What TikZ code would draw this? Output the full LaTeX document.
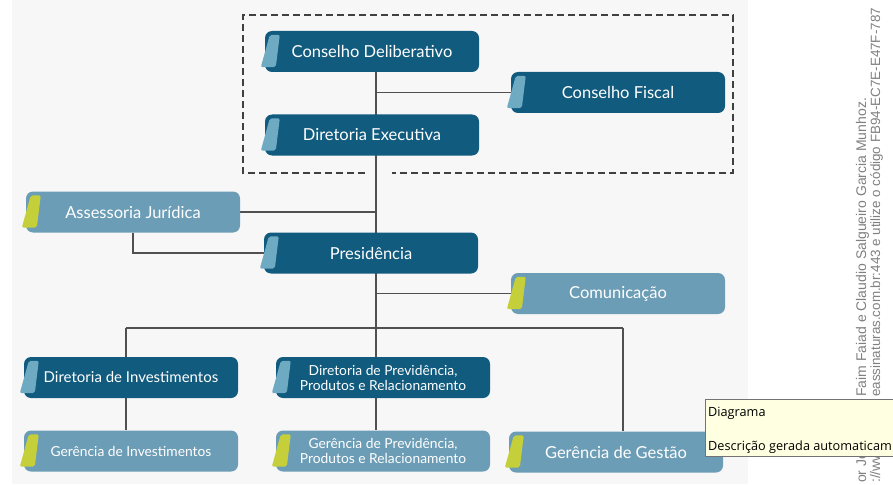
\documentclass[tikz,border=0pt]{standalone}
\usepackage{fontspec}
\setmainfont{Lato}
\newfontfamily\tipfont{Open Sans}
\newfontfamily\markfont{Liberation Sans}
\pgfdeclarelayer{bglayer}
\pgfdeclarelayer{edgelayer}
\pgfdeclarelayer{nodelayer}
\pgfsetlayers{bglayer,edgelayer,nodelayer,main}
\definecolor{darkblue}{HTML}{115B7E}
\definecolor{lightblue}{HTML}{6C9DB6}
\definecolor{tabblue}{HTML}{6FAAC3}
\definecolor{tabgreen}{HTML}{C4CF3A}
\definecolor{linegray}{HTML}{505050}
\definecolor{tipyellow}{HTML}{FFFFE1}
\tikzset{font=\fontsize{16.5}{18}\selectfont}
\tikzstyle{box}=[rectangle,rounded corners=7pt,minimum width=214pt,minimum height=41pt,inner sep=0pt,text=white,align=center]
\tikzstyle{dark}=[box,fill=darkblue]
\tikzstyle{light}=[box,fill=lightblue]
\tikzstyle{small}=[font=\fontsize{13.8}{15}\selectfont]
\tikzstyle{link}=[draw=linegray,line width=1.6pt]
\tikzstyle{frame}=[draw=black!75,line width=1.8pt,dash pattern=on 7pt off 4pt]
\tikzstyle{tip}=[anchor=base west,inner sep=0pt,font=\tipfont\fontsize{12.7}{14}\selectfont]
\tikzstyle{wmark}=[rotate=90,anchor=base west,inner sep=0pt,text=black!50,font=\markfont\fontsize{14}{16}\selectfont]

\begin{document}
\begin{tikzpicture}[x=1pt,y=-1pt]
	\useasboundingbox (0,0) rectangle (893,484);
	\begin{pgfonlayer}{bglayer}
		\fill[black!3] (12,0) rectangle (748,484);
	\end{pgfonlayer}
	\begin{pgfonlayer}{nodelayer}
		\node [style=dark] (cd) at (372, 51.5) {Conselho Deliberativo};
		\node [style=dark] (cf) at (618, 92.5) {Conselho Fiscal};
		\node [style=dark] (de) at (372, 135) {Diretoria Executiva};
		\node [style=light] (aj) at (133, 212) {Assessoria Jurídica};
		\node [style=dark] (pr) at (371, 253) {Presidência};
		\node [style=light] (co) at (618, 293.5) {Comunicação};
		\node [style=dark, font=\fontsize{15}{17}\selectfont] (di) at (131, 377.5) {Diretoria de Investimentos};
		\node [style=dark, small] (dp) at (383, 377.5) {Diretoria de Previdência,\\Produtos e Relacionamento};
		\node [style=light, small] (gi) at (131, 451) {Gerência de Investimentos};
		\node [style=light, small] (gp) at (383, 451) {Gerência de Previdência,\\Produtos e Relacionamento};
		\node [style=light] (gg) at (616, 452) {Gerência de Gestão};
		\coordinate (busl) at (126, 328);
		\coordinate (busm) at (376, 328);
		\coordinate (busr) at (623, 328);
	\end{pgfonlayer}
	\begin{pgfonlayer}{edgelayer}
		\draw [style=link] (busm |- cd.south) to (busm);
		\draw [style=link] (busm |- cf.west) to (cf.west);
		\draw [style=link] (aj.east) to (aj.east -| busm);
		\draw [style=link] (aj.south) to (aj.south |- pr.west) to (pr.west);
		\draw [style=link] (busm |- co.west) to (co.west);
		\draw [style=link] (busl) to (busr);
		\draw [style=link] (busl) to (busl |- di.north);
		\draw [style=link] (busl |- di.south) to (busl |- gi.north);
		\draw [style=link] (busm) to (busm |- dp.north);
		\draw [style=link] (busm |- dp.south) to (busm |- gp.north);
		\draw [style=link] (busr) to (busr |- gg.north);
		\draw [style=frame] (365, 173) -- (243, 173) -- (243, 15) -- (733, 15) -- (733, 173) -- (392, 173);
	\end{pgfonlayer}
	% tabs on the left of each box
	\foreach \n/\c in {cd/tabblue,cf/tabblue,de/tabblue,pr/tabblue,di/tabblue,dp/tabblue,aj/tabgreen,co/tabgreen,gi/tabgreen,gp/tabgreen,gg/tabgreen}
		\fill [\c, rounded corners=2pt] ([shift={(5,4)}]\n.north west) -- ([shift={(15,4)}]\n.north west) -- ([shift={(11,-5)}]\n.south west) -- ([shift={(-4,-5)}]\n.south west) -- cycle;
	% side text and tooltip
	\node [style=wmark] (wm1) at (866, 397) {Faim Faiad e Claudio Salgueiro Garcia Munhoz.};
	\node [style=wmark, font=\markfont\fontsize{13.4}{16}\selectfont] (wm2) at (880, 397) {eassinaturas.com.br:443 e utilize o código FB94-EC7E-E47F-787};
	\node [style=wmark] (wm3) at (866, 483) {or Jo};
	\node [style=wmark] (wm4) at (880, 483) {://ww};
	\fill [tipyellow, draw=black!55, line width=0.8pt] (705, 399) rectangle (896, 456);
	\node [style=tip] (t1) at (708, 416) {Diagrama};
	\node [style=tip] (t2) at (708, 450) {Descrição gerada automaticam};
\end{tikzpicture}
\end{document}
